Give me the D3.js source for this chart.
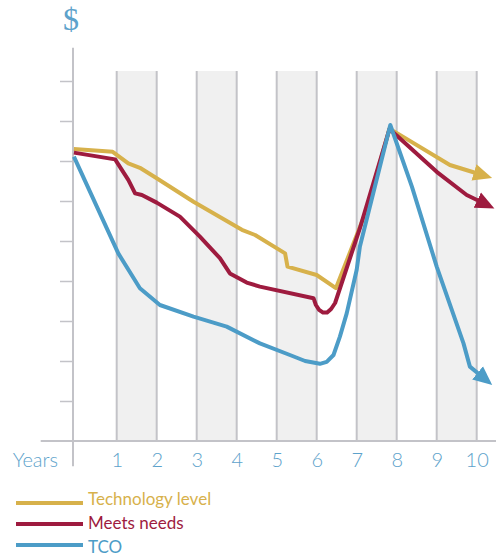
<!DOCTYPE html>
<html lang="en">
  <head>
    <meta charset="utf-8">
    <title>TCO_vs_Technology</title>
    <script src="https://d3js.org/d3.v7.js"></script>
    <style>
      body { margin: 0; background: white; }
      text { font-family: Lato, "Open Sans", sans-serif; }
    </style>
  </head>

  <body>
    <script>

      const w = 496;
      const h = 555;

      // data (x in years, y in "$" tick units)
      const yearTicks = [1, 2, 3, 4, 5, 6, 7, 8, 9, 10];
      const valueTicks = [1, 2, 3, 4, 5, 6, 7, 8, 9];
      const shadedYears = [1, 3, 5, 7, 9];

      const techYears  = [-0.07, 0.90, 1.29, 1.58, 2.00, 2.92, 4.13, 4.46, 5.21, 5.27, 6.00, 6.48, 7.25, 7.82, 9.33, 9.98];
      const techValues = [7.30, 7.23, 6.94, 6.83, 6.57, 5.98, 5.28, 5.15, 4.69, 4.36, 4.15, 3.82, 5.78, 7.81, 6.90, 6.70];

      const needsYears  = [-0.07, 0.96, 1.29, 1.46, 1.63, 2.00, 2.58, 3.08, 3.58, 3.83, 4.25, 4.58, 5.92, 5.98, 6.06, 6.16, 6.26, 6.36, 6.46, 7.08, 7.82, 9.00, 9.75, 10.06];
      const needsValues = [7.21, 7.04, 6.53, 6.19, 6.15, 5.96, 5.61, 5.11, 4.57, 4.19, 3.96, 3.86, 3.57, 3.40, 3.28, 3.21, 3.21, 3.30, 3.45, 5.32, 7.80, 6.73, 6.15, 6.00];

      const tcoYears  = [-0.07, 1.04, 1.58, 2.08, 2.92, 3.75, 4.58, 5.33, 5.71, 6.08, 6.25, 6.42, 6.58, 6.75, 7.00, 7.08, 7.84, 8.38, 9.00, 9.67, 9.83, 10.06];
      const tcoValues = [7.11, 4.69, 3.82, 3.40, 3.11, 2.86, 2.44, 2.15, 2.00, 1.93, 1.98, 2.15, 2.61, 3.19, 4.28, 4.86, 7.90, 6.36, 4.36, 2.44, 1.86, 1.67];

      const seriesNames  = ["Technology level", "Meets needs", "TCO"];
      const seriesColors = ["#d7b14b", "#9e1b3f", "#4c9cc7"];

      const series = [
        {name: seriesNames[0], color: seriesColors[0], years: techYears,  values: techValues},
        {name: seriesNames[1], color: seriesColors[1], years: needsYears, values: needsValues},
        {name: seriesNames[2], color: seriesColors[2], years: tcoYears,   values: tcoValues}
      ];

      const xScale = d3.scaleLinear()
                       .domain([0, 10])
                       .range([76.7, 476.7]);

      const yScale = d3.scaleLinear()
                       .domain([0, 9])
                       .range([441, 81]);

      const axisX = xScale(0) - 3.7;
      const gridColor = "#c3c3c8";
      const labelColor = "#5da2cb";

      const svg = d3.select("body")
                    .append("svg")
                    .attr("width", w)
                    .attr("height", h);

      svg.append("rect")
         .attr("width", w)
         .attr("height", h)
         .attr("fill", "white");

      // shaded year bands
      svg.append("g")
         .selectAll("rect")
         .data(shadedYears)
         .enter().append("rect")
         .attr("x", d => xScale(d))
         .attr("y", yScale(9.25))
         .attr("width", d => xScale(d + 1) - xScale(d))
         .attr("height", yScale(0) - yScale(9.25))
         .attr("fill", "#f0f0f0");

      // vertical grid lines
      svg.append("g")
         .selectAll("line")
         .data(yearTicks)
         .enter().append("line")
         .attr("x1", d => xScale(d))
         .attr("x2", d => xScale(d))
         .attr("y1", yScale(9.25))
         .attr("y2", yScale(0))
         .attr("stroke", gridColor)
         .attr("stroke-width", 2);

      // y axis line and ticks
      svg.append("line")
         .attr("x1", axisX)
         .attr("x2", axisX)
         .attr("y1", yScale(9.83))
         .attr("y2", yScale(-0.63))
         .attr("stroke", gridColor)
         .attr("stroke-width", 2);

      const yAxis = d3.axisLeft(yScale)
                      .tickValues(valueTicks)
                      .tickSize(12)
                      .tickFormat("");

      svg.append("g")
         .attr("class", "yAxis")
         .attr("transform", `translate (${axisX - 1}, 0)`)
         .call(yAxis)
         .call(g => g.select(".domain").remove())
         .call(g => g.selectAll("line").attr("stroke", gridColor).attr("stroke-width", 1.5));

      // x axis line
      svg.append("line")
         .attr("x1", xScale(-0.9))
         .attr("x2", w)
         .attr("y1", yScale(0))
         .attr("y2", yScale(0))
         .attr("stroke", gridColor)
         .attr("stroke-width", 2);

      const xAxis = d3.axisBottom(xScale)
                      .tickValues(yearTicks)
                      .tickSize(0)
                      .tickPadding(11.5)
                      .tickFormat(d3.format("d"));

      svg.append("g")
         .attr("class", "xAxis")
         .attr("transform", `translate (0, ${yScale(0)})`)
         .call(xAxis)
         .call(g => g.select(".domain").remove())
         .call(g => g.selectAll("text")
                     .attr("fill", labelColor)
                     .attr("font-size", 20)
                     .attr("font-weight", 300)
                     .style("font-family", "Lato, sans-serif"));

      svg.append("text")
         .attr("x", 58)
         .attr("y", 467)
         .attr("text-anchor", "end")
         .attr("fill", labelColor)
         .attr("font-size", 20)
         .attr("font-weight", 300)
         .text("Years");

      svg.append("text")
         .attr("x", axisX - 2)
         .attr("y", 30)
         .attr("text-anchor", "middle")
         .attr("fill", labelColor)
         .attr("font-size", 32)
         .style("font-family", "'Liberation Serif', serif")
         .text("$");

      // arrow heads
      const defs = svg.append("defs");
      series.forEach((s, i) => {
        defs.append("marker")
            .attr("id", "arrow" + i)
            .attr("markerUnits", "userSpaceOnUse")
            .attr("viewBox", "0 -9 20 18")
            .attr("refX", 2)
            .attr("refY", 0)
            .attr("markerWidth", 20)
            .attr("markerHeight", 18)
            .attr("orient", "auto")
            .append("path")
            .attr("d", "M0,-8.5L19,0L0,8.5Z")
            .attr("fill", s.color);
      });

      const line = d3.line()
                     .x(d => xScale(d[0]))
                     .y(d => yScale(d[1]))
                     .curve(d3.curveLinear);

      svg.append("g")
         .selectAll("path")
         .data(series)
         .enter().append("path")
         .attr("d", s => line(d3.zip(s.years, s.values)))
         .attr("fill", "none")
         .attr("stroke", s => s.color)
         .attr("stroke-width", 4)
         .attr("stroke-linejoin", "round")
         .attr("marker-end", (s, i) => `url(#arrow${i})`);

      // legend
      const legend = svg.append("g");
      series.forEach((s, i) => {
        legend.append("line")
              .attr("x1", 16)
              .attr("x2", 83)
              .attr("y1", 503 + 21 * i)
              .attr("y2", 503 + 21 * i)
              .attr("stroke", s.color)
              .attr("stroke-width", 4);
        legend.append("text")
              .attr("x", 88)
              .attr("y", 504.5 + 24 * i)
              .attr("fill", s.color)
              .attr("font-size", 17)
              .text(s.name);
      });

    </script>
  </body>
</html>
